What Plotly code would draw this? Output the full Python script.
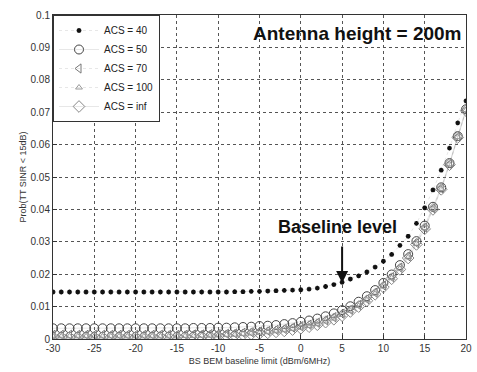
import plotly.graph_objects as go

x_vals = list(range(-30, 21))

acs40 = [0.0145]*21 + [0.0145, 0.0146, 0.0146, 0.0147, 0.0147, 0.0148, 0.0149, 0.0150, 0.0151,
         0.0152, 0.0154, 0.0157, 0.0162, 0.0168, 0.0175, 0.0185, 0.0195, 0.0207, 0.0222,
         0.0240, 0.0261, 0.0289, 0.0317, 0.0357, 0.0405, 0.0460, 0.0521, 0.0589, 0.0667, 0.0735]

acs50 = [0.0033]*16 + [0.0033, 0.0034, 0.0034, 0.0034, 0.0035, 0.0035, 0.0036, 0.0037, 0.0038,
         0.0040, 0.0041, 0.0043, 0.0046, 0.0049, 0.0053, 0.0057, 0.0063, 0.0070, 0.0079,
         0.0089, 0.0101, 0.0115, 0.0132, 0.0151, 0.0173, 0.0199, 0.0228, 0.0262, 0.0302,
         0.0350, 0.0408, 0.0468, 0.0543, 0.0626, 0.0709]

acs70 = [0.0013]*16 + [0.0013, 0.0014, 0.0014, 0.0015, 0.0015, 0.0016, 0.0017, 0.0019, 0.0021,
         0.0023, 0.0025, 0.0028, 0.0031, 0.0035, 0.0039, 0.0044, 0.0050, 0.0058, 0.0067,
         0.0078, 0.0090, 0.0105, 0.0123, 0.0143, 0.0165, 0.0191, 0.0220, 0.0255, 0.0296,
         0.0344, 0.0403, 0.0465, 0.0540, 0.0624, 0.0707]

acs100 = [0.0008]*16 + [0.0009, 0.0009, 0.0010, 0.0010, 0.0011, 0.0012, 0.0013, 0.0015, 0.0017,
          0.0019, 0.0021, 0.0024, 0.0027, 0.0031, 0.0035, 0.0040, 0.0046, 0.0054, 0.0063,
          0.0074, 0.0087, 0.0102, 0.0120, 0.0140, 0.0162, 0.0188, 0.0217, 0.0252, 0.0294,
          0.0342, 0.0401, 0.0463, 0.0539, 0.0623, 0.0706]

acsinf = [0.0005]*11 + [0.0005, 0.0005, 0.0006, 0.0006, 0.0006, 0.0007, 0.0007, 0.0008, 0.0008,
          0.0009, 0.0010, 0.0011, 0.0013, 0.0015, 0.0017, 0.0019, 0.0022, 0.0025, 0.0029,
          0.0033, 0.0038, 0.0044, 0.0052, 0.0061, 0.0072, 0.0085, 0.0100, 0.0118, 0.0138,
          0.0160, 0.0186, 0.0215, 0.0250, 0.0292, 0.0340, 0.0400, 0.0462, 0.0538, 0.0622, 0.0705]

x_ticks = list(range(-30, 21, 5))
x_tick_labels = [str(v) for v in x_ticks]
y_ticks = [i / 100 for i in range(11)]
y_tick_labels = ["0"] + ["0.%02d" % i for i in range(1, 10)] + ["0.1"]

series = [
    ("ACS = 40", acs40, "asterisk-open", 4, "#111111", "dot"),
    ("ACS = 50", acs50, "circle-open", 9, "#444444", "solid"),
    ("ACS = 70", acs70, "triangle-left-open", 8, "#777777", "dot"),
    ("ACS = 100", acs100, "triangle-up-open", 6, "#999999", "dot"),
    ("ACS = inf", acsinf, "diamond-open", 9, "#888888", "solid"),
]

FONT = "Liberation Sans, Arial"

fig = go.Figure()
for name, vals, sym, size, col, dash in series:
    fig.add_trace(go.Scatter(
        x=x_vals, y=vals, name=name, mode="lines+markers",
        line=dict(color="rgba(140,140,140,0.35)", width=0.6, dash=dash),
        marker=dict(symbol=sym, size=size, color=col, line=dict(width=1.4 if size < 5 else 1, color=col)),
    ))

axis_common = dict(
    showline=True, linecolor="#333333", linewidth=1, mirror=True,
    ticks="inside", ticklen=4, tickcolor="#333333",
    showgrid=True, gridcolor="#555555", griddash="dot", gridwidth=1,
    zeroline=False, ticklabeloverflow="allow",
    tickfont=dict(family=FONT, size=10, color="#333333"),
)

fig.update_layout(
    width=477, height=372,
    margin=dict(l=53, r=5, t=15, b=33),
    paper_bgcolor="white", plot_bgcolor="white",
    showlegend=True,
    legend=dict(x=0, y=1, xanchor="left", yanchor="top",
                bgcolor="white", bordercolor="#333333", borderwidth=1,
                font=dict(family=FONT, size=10, color="#222222"),
                tracegroupgap=0, itemwidth=40),
    xaxis=dict(range=[-30, 20], tickmode="array", tickvals=x_ticks, ticktext=x_tick_labels,
               title=dict(text="BS BEM baseline limit (dBm/6MHz)", standoff=4,
                          font=dict(family=FONT, size=9, color="#333333")),
               **axis_common),
    yaxis=dict(range=[0, 0.1], tickmode="array", tickvals=y_ticks, ticktext=y_tick_labels,
               title=dict(text="Prob(TT SINR < 15dB)", standoff=2,
                          font=dict(family=FONT, size=9, color="#333333")),
               **axis_common),
    annotations=[
        dict(x=0.995, y=0.944, xref="paper", yref="paper", xanchor="right", yanchor="middle",
             text="<b>Antenna height = 200m</b>", showarrow=False,
             font=dict(family=FONT, size=19, color="#111111")),
        dict(x=5, y=0.0173, xref="x", yref="y", text="", showarrow=True,
             arrowhead=2, arrowsize=1.2, arrowwidth=2, arrowcolor="#111111", ax=0, ay=-38),
        dict(x=4.4, y=0.0346, xref="x", yref="y", text="<b>Baseline level</b>", showarrow=False,
             font=dict(family=FONT, size=18, color="#111111")),
    ],
)

fig.write_html("out.html")
